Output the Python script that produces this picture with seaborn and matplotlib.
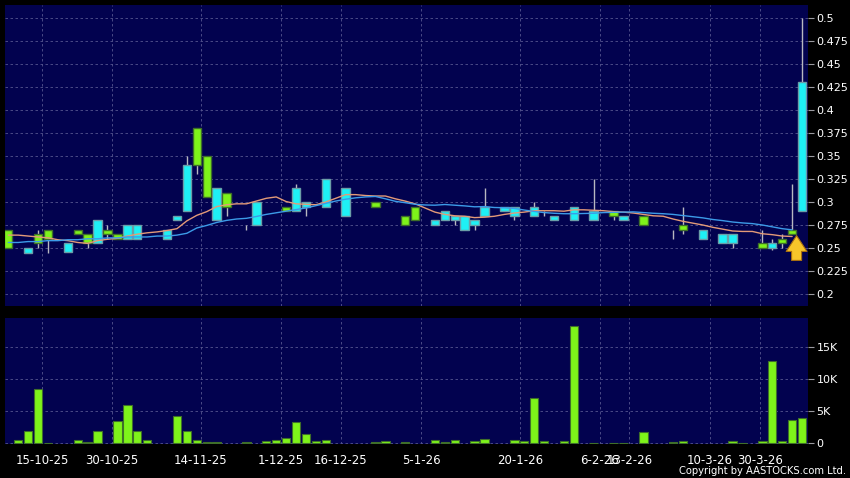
import numpy as np
import pandas as pd
import matplotlib
matplotlib.use('Agg')
import matplotlib.pyplot as plt
import seaborn as sns

# daily candles, one per slot (HKD)
opens = [0.27, 0.25, 0.245, 0.265, 0.27, 0.26, 0.246, 0.27, 0.265, 0.255,
         0.27, 0.265, 0.26, 0.26, 0.275, 0.27, 0.26, 0.28, 0.29, 0.38,
         0.35, 0.28, 0.31, 0.285, 0.275, 0.275, 0.30, 0.30, 0.295, 0.29,
         0.295, 0.31, 0.295, 0.325, 0.285, 0.30, 0.29, 0.30, 0.29, 0.285,
         0.285, 0.295, 0.28, 0.275, 0.28, 0.28, 0.27, 0.275, 0.285, 0.295,
         0.29, 0.285, 0.29, 0.285, 0.29, 0.28, 0.28, 0.28, 0.295, 0.28,
         0.29, 0.29, 0.28, 0.285, 0.285, 0.27, 0.275, 0.265, 0.275, 0.27,
         0.26, 0.26, 0.255, 0.255, 0.27, 0.27, 0.255, 0.25, 0.26, 0.27,
         0.29]
closes = [0.25, 0.25, 0.25, 0.255, 0.26, 0.26, 0.255, 0.265, 0.255, 0.28,
          0.265, 0.26, 0.275, 0.275, 0.275, 0.27, 0.27, 0.285, 0.34, 0.34,
          0.305, 0.315, 0.295, 0.285, 0.275, 0.30, 0.30, 0.30, 0.29, 0.315,
          0.30, 0.31, 0.325, 0.325, 0.315, 0.30, 0.29, 0.295, 0.29, 0.285,
          0.275, 0.28, 0.28, 0.28, 0.29, 0.285, 0.285, 0.28, 0.295, 0.295,
          0.295, 0.295, 0.29, 0.295, 0.29, 0.285, 0.28, 0.295, 0.295, 0.29,
          0.29, 0.285, 0.285, 0.285, 0.275, 0.27, 0.275, 0.265, 0.27, 0.27,
          0.27, 0.26, 0.265, 0.265, 0.27, 0.27, 0.25, 0.255, 0.255, 0.265,
          0.43]
highs = [0.27, 0.25, 0.25, 0.27, 0.27, 0.26, 0.255, 0.27, 0.265, 0.28,
         0.275, 0.265, 0.275, 0.275, 0.275, 0.27, 0.27, 0.285, 0.35, 0.38,
         0.35, 0.315, 0.31, 0.285, 0.275, 0.30, 0.30, 0.30, 0.295, 0.32,
         0.30, 0.31, 0.325, 0.325, 0.315, 0.30, 0.29, 0.30, 0.29, 0.285,
         0.285, 0.295, 0.28, 0.28, 0.29, 0.285, 0.285, 0.28, 0.315, 0.295,
         0.295, 0.295, 0.29, 0.30, 0.29, 0.285, 0.28, 0.295, 0.295, 0.325,
         0.29, 0.29, 0.285, 0.285, 0.285, 0.27, 0.275, 0.27, 0.295, 0.27,
         0.27, 0.26, 0.265, 0.265, 0.27, 0.27, 0.27, 0.26, 0.265, 0.32,
         0.50]
lows = [0.25, 0.25, 0.245, 0.25, 0.245, 0.26, 0.246, 0.265, 0.25, 0.255,
        0.26, 0.26, 0.26, 0.26, 0.275, 0.27, 0.26, 0.28, 0.29, 0.33,
        0.305, 0.28, 0.285, 0.285, 0.27, 0.275, 0.30, 0.30, 0.29, 0.29,
        0.285, 0.31, 0.295, 0.325, 0.285, 0.30, 0.29, 0.295, 0.29, 0.285,
        0.275, 0.28, 0.28, 0.275, 0.28, 0.275, 0.27, 0.27, 0.285, 0.295,
        0.29, 0.28, 0.29, 0.285, 0.285, 0.28, 0.28, 0.28, 0.295, 0.28,
        0.29, 0.28, 0.28, 0.285, 0.275, 0.27, 0.275, 0.26, 0.265, 0.27,
        0.26, 0.26, 0.255, 0.25, 0.27, 0.27, 0.25, 0.248, 0.25, 0.265,
        0.29]
# volume in thousands of shares
volume_k = [0, 0.56, 1.9, 8.5, 0.05, 0, 0, 0.46, 0.2, 1.97,
            0, 3.5, 6.0, 2.0, 0.45, 0, 0, 4.2, 1.9, 0.5,
            0.15, 0.2, 0, 0, 0.15, 0, 0.4, 0.6, 0.8, 3.4,
            1.45, 0.35, 0.5, 0, 0, 0, 0, 0.15, 0.4, 0,
            0.15, 0, 0, 0.5, 0.15, 0.55, 0, 0.35, 0.7, 0,
            0, 0.45, 0.4, 7.1, 0.35, 0, 0.35, 18.4, 0, 0.1,
            0, 0.1, 0.1, 0, 1.7, 0, 0, 0.2, 0.35, 0,
            0, 0, 0, 0.3, 0.05, 0, 0.3, 12.9, 0.35, 3.7,
            3.9]

# moving averages before enough closes are on screen
ma10_head = [0.264, 0.264, 0.263, 0.262, 0.261, 0.259, 0.258, 0.256, 0.255]
ma20_head = [0.256, 0.256, 0.257, 0.257, 0.258, 0.258, 0.259, 0.259, 0.260, 0.260,
             0.261, 0.261, 0.262, 0.262, 0.262, 0.263, 0.263, 0.264, 0.266]

date_labels = ['15-10-25', '30-10-25', '14-11-25', '1-12-25', '16-12-25', '5-1-26',
               '20-1-26', '6-2-26', '13-2-26', '10-3-26', '30-3-26']
date_pos = [3.4, 10.45, 19.4, 27.5, 33.5, 41.6, 51.6, 59.6, 62.6, 70.7, 75.8]

price_ticks = [0.2, 0.225, 0.25, 0.275, 0.3, 0.325, 0.35, 0.375, 0.4, 0.425, 0.45, 0.475, 0.5]
vol_ticks = [0, 5, 10, 15]
vol_labels = ['0', '5K', '10K', '15K']

NAVY = '#02024f'
CYAN = '#1ef0f5'
CYAN_EDGE = '#6a9ea8'
GREEN = '#7ef31a'
GREEN_EDGE = '#3f6f2a'
GRID = '#55558f'

df = pd.DataFrame({'open': opens, 'high': highs, 'low': lows, 'close': closes, 'vol': volume_k})
df['slot'] = np.arange(len(df))
df['ma10'] = df['close'].rolling(10).mean()
df['ma20'] = df['close'].rolling(20).mean()
df.loc[:len(ma10_head) - 1, 'ma10'] = ma10_head
df.loc[:len(ma20_head) - 1, 'ma20'] = ma20_head

sns.set_style('dark', {'axes.facecolor': NAVY, 'figure.facecolor': 'black'})
plt.rcParams['font.family'] = ['DejaVu Sans']

fig = plt.figure(figsize=(8.5, 4.78), dpi=100, facecolor='black')
ax = fig.add_axes([5 / 850, 1 - 306 / 478, 803 / 850, 301 / 478])
axv = fig.add_axes([5 / 850, 1 - 444 / 478, 803 / 850, 126 / 478])

# candles
up = df[df['close'] > df['open']]
down = df[df['close'] < df['open']]
flat = df[df['close'] == df['open']]
ax.vlines(df['slot'], df['low'], df['high'], color='#b8b8c0', lw=1, zorder=2)
ax.bar(up['slot'], up['close'] - up['open'], bottom=up['open'], width=0.85,
       color=CYAN, edgecolor=CYAN_EDGE, linewidth=1, zorder=3)
ax.bar(down['slot'], down['open'] - down['close'], bottom=down['close'], width=0.85,
       color=GREEN, edgecolor=GREEN_EDGE, linewidth=1, zorder=3)
ax.hlines(flat['slot'], flat['slot'] - 0.42, flat['slot'] + 0.42, color='#c8c8d0', lw=1, zorder=3)

ma = df.iloc[:-1]
sns.lineplot(x=ma['slot'], y=ma['ma10'], ax=ax, color='#e39a78', lw=1, zorder=4)
sns.lineplot(x=ma['slot'], y=ma['ma20'], ax=ax, color='#3c9be8', lw=1, zorder=4)

# marker arrow under the latest session
ax.annotate('', xy=(79.45, 0.2665), xytext=(79.45, 0.2335),
            arrowprops=dict(arrowstyle='simple,head_width=1.25,head_length=0.95,tail_width=0.6',
                            fc='#f7c52a', ec='#a86f10', lw=0.8, mutation_scale=12),
            zorder=5)

# volume
vol = df[df['vol'] > 0]
sns.barplot(x=vol['slot'], y=vol['vol'], ax=axv, native_scale=True, color=GREEN,
            edgecolor=GREEN_EDGE, linewidth=0.8, width=0.85, saturation=1, zorder=3)

for a in (ax, axv):
    a.set_facecolor(NAVY)
    a.set_xlim(-0.33, 80.6)
    a.set_xticks(date_pos)
    a.grid(True, color=GRID, ls=(0, (3, 3)), lw=0.6, zorder=0)
    a.yaxis.tick_right()
    a.tick_params(axis='y', colors='#9a9aa0', labelcolor='white', length=4, width=0.8,
                  labelsize=8, pad=2)
    a.set_xlabel('')
    a.set_ylabel('')
    for s in a.spines.values():
        s.set_visible(False)

ax.set_ylim(0.187, 0.514)
ax.set_yticks(price_ticks)
ax.set_yticklabels([f'{v:g}' for v in price_ticks])
ax.tick_params(axis='x', length=0, labelbottom=False)

axv.set_ylim(-0.1, 19.6)
axv.set_yticks(vol_ticks)
axv.set_yticklabels(vol_labels)
axv.set_xticklabels(date_labels)
axv.tick_params(axis='x', colors='#9a9aa0', labelcolor='white', length=4, width=0.8,
                labelsize=8.5, pad=3)

fig.text(0.995, 0.004, 'Copyright by AASTOCKS.com Ltd.', ha='right', va='bottom',
         color='white', fontsize=7.2)

fig.savefig('out.png', dpi=100, facecolor='black')
